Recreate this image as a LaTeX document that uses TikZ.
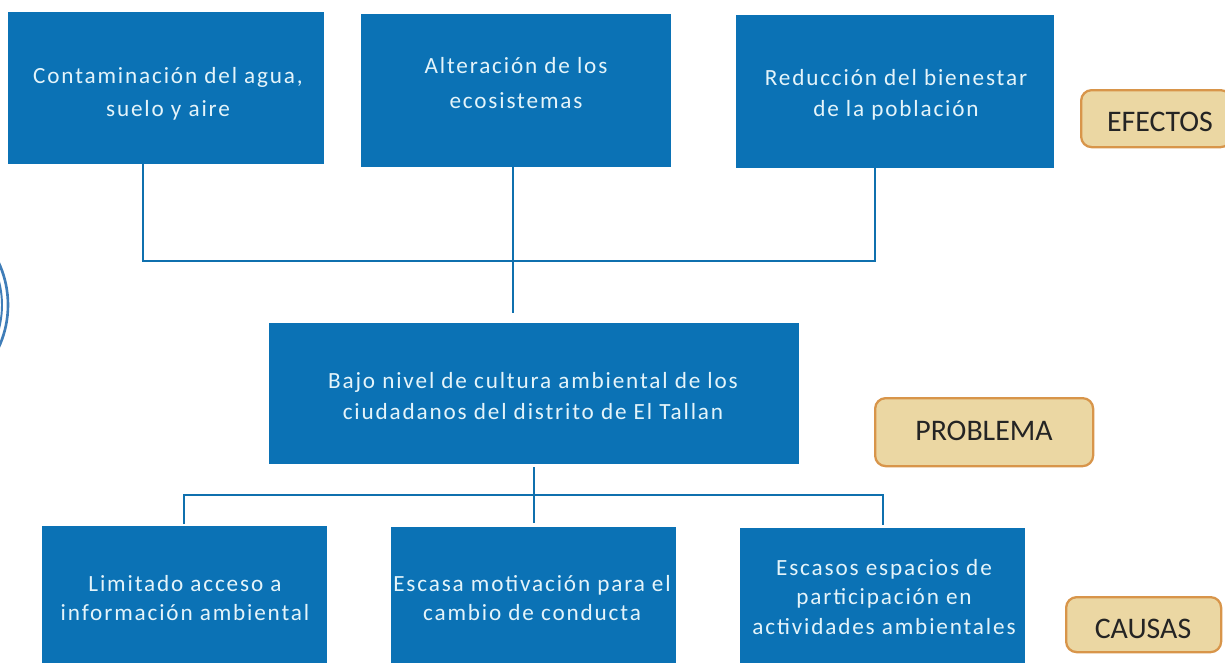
\documentclass[tikz,border=0pt]{standalone}
\usepackage{fontspec}
\setmainfont{Carlito}
\newfontfamily\boxfont[LetterSpace=8]{Carlito}
\definecolor{boxblue}{HTML}{0B72B5}
\definecolor{boxtext}{HTML}{E4F4FA}
\definecolor{linkblue}{HTML}{0F70AE}
\definecolor{tagfill}{HTML}{EBD7A3}
\definecolor{tagline}{HTML}{D8954A}
\definecolor{tagtext}{HTML}{242424}
\definecolor{sealblue}{HTML}{3F7DB8}
\tikzset{
  x=0.02cm,y=-0.02cm,
  bluebox/.style={fill=boxblue,draw=none,anchor=north west,inner sep=0pt},
  boxlabel/.style={text=boxtext,font=\fontsize{13.2}{#1}\selectfont\boxfont,align=center,anchor=center,inner sep=0pt},
  tagbox/.style={fill=tagfill,draw=tagline,line width=1.3pt,rounded corners=6pt,anchor=north west,inner sep=0pt},
  taglabel/.style={font=\fontsize{17}{19}\selectfont,text=tagtext,anchor=center,inner sep=0pt},
  linkline/.style={draw=linkblue,line width=1.4pt},
  sealarc/.style={draw=sealblue,line width=1.5pt}
}
\begin{document}
\begin{tikzpicture}
\useasboundingbox (0,0) rectangle (1225,663);
\fill[white] (0,0) rectangle (1225,663);
% seal fragment
\begin{scope}
\clip (0,0) rectangle (20,663);
\draw[sealarc] (-93,305) circle [radius=101];
\draw[sealarc,line width=1.1pt] (-93,305) circle [radius=95];
\end{scope}
% boxes
\node[bluebox,minimum width=316*0.02cm,minimum height=152*0.02cm] (e1) at (8,12) {};
\node[bluebox,minimum width=310*0.02cm,minimum height=153*0.02cm] (e2) at (361,14) {};
\node[bluebox,minimum width=318*0.02cm,minimum height=153*0.02cm] (e3) at (736,15) {};
\node[bluebox,minimum width=530*0.02cm,minimum height=141*0.02cm] (p) at (269,323) {};
\node[bluebox,minimum width=285*0.02cm,minimum height=137*0.02cm] (c1) at (42,526) {};
\node[bluebox,minimum width=285*0.02cm,minimum height=136*0.02cm] (c2) at (391,527) {};
\node[bluebox,minimum width=285*0.02cm,minimum height=135*0.02cm] (c3) at (740,528) {};
% box text
\node[boxlabel=18.5] (te1) at (168,94) {Contaminación del agua,\\suelo y aire};
\node[boxlabel=20.4] (te2) at (516,83) {Alteración de los\\ecosistemas};
\node[boxlabel=17.6] (te3) at (896,95) {Reducción del bienestar\\de la población};
\node[boxlabel=18] (tp) at (533,396) {Bajo nivel de cultura ambiental de los\\ciudadanos del distrito de El Tallan};
\node[boxlabel=17] (tc1) at (185,598) {Limitado acceso a\\información ambiental};
\node[boxlabel=17] (tc2) at (532,598) {Escasa motivación para el\\cambio de conducta};
\node[boxlabel=17] (tc3) at (884,597) {Escasos espacios de\\participación en\\actividades ambientales};
% tags
\node[tagbox,minimum width=150*0.02cm,minimum height=57*0.02cm] (t1) at (1080,89) {};
\node[taglabel] (t1t) at (1160,122) {EFECTOS};
\node[tagbox,minimum width=218*0.02cm,minimum height=68*0.02cm] (t2) at (874,397) {};
\node[taglabel] (t2t) at (984,431) {PROBLEMA};
\node[tagbox,minimum width=155*0.02cm,minimum height=55*0.02cm] (t3) at (1065,596) {};
\node[taglabel] (t3t) at (1143,629) {CAUSAS};
% connectors
\coordinate (top) at (513,261);
\coordinate (topend) at (513,313);
\coordinate (aL) at (143,164);
\coordinate (aR) at (875,168);
\coordinate (aM) at (513,167);
\draw[linkline] (aL) |- (top) -| (aR);
\draw[linkline] (aM) -- (topend);
\coordinate (bs) at (534,467);
\coordinate (bm) at (534,495);
\coordinate (be) at (534,523);
\coordinate (bl) at (184,524);
\coordinate (br) at (883,525);
\draw[linkline] (bs) -- (be);
\draw[linkline] (bl) |- (bm) -| (br);
\end{tikzpicture}
\end{document}
